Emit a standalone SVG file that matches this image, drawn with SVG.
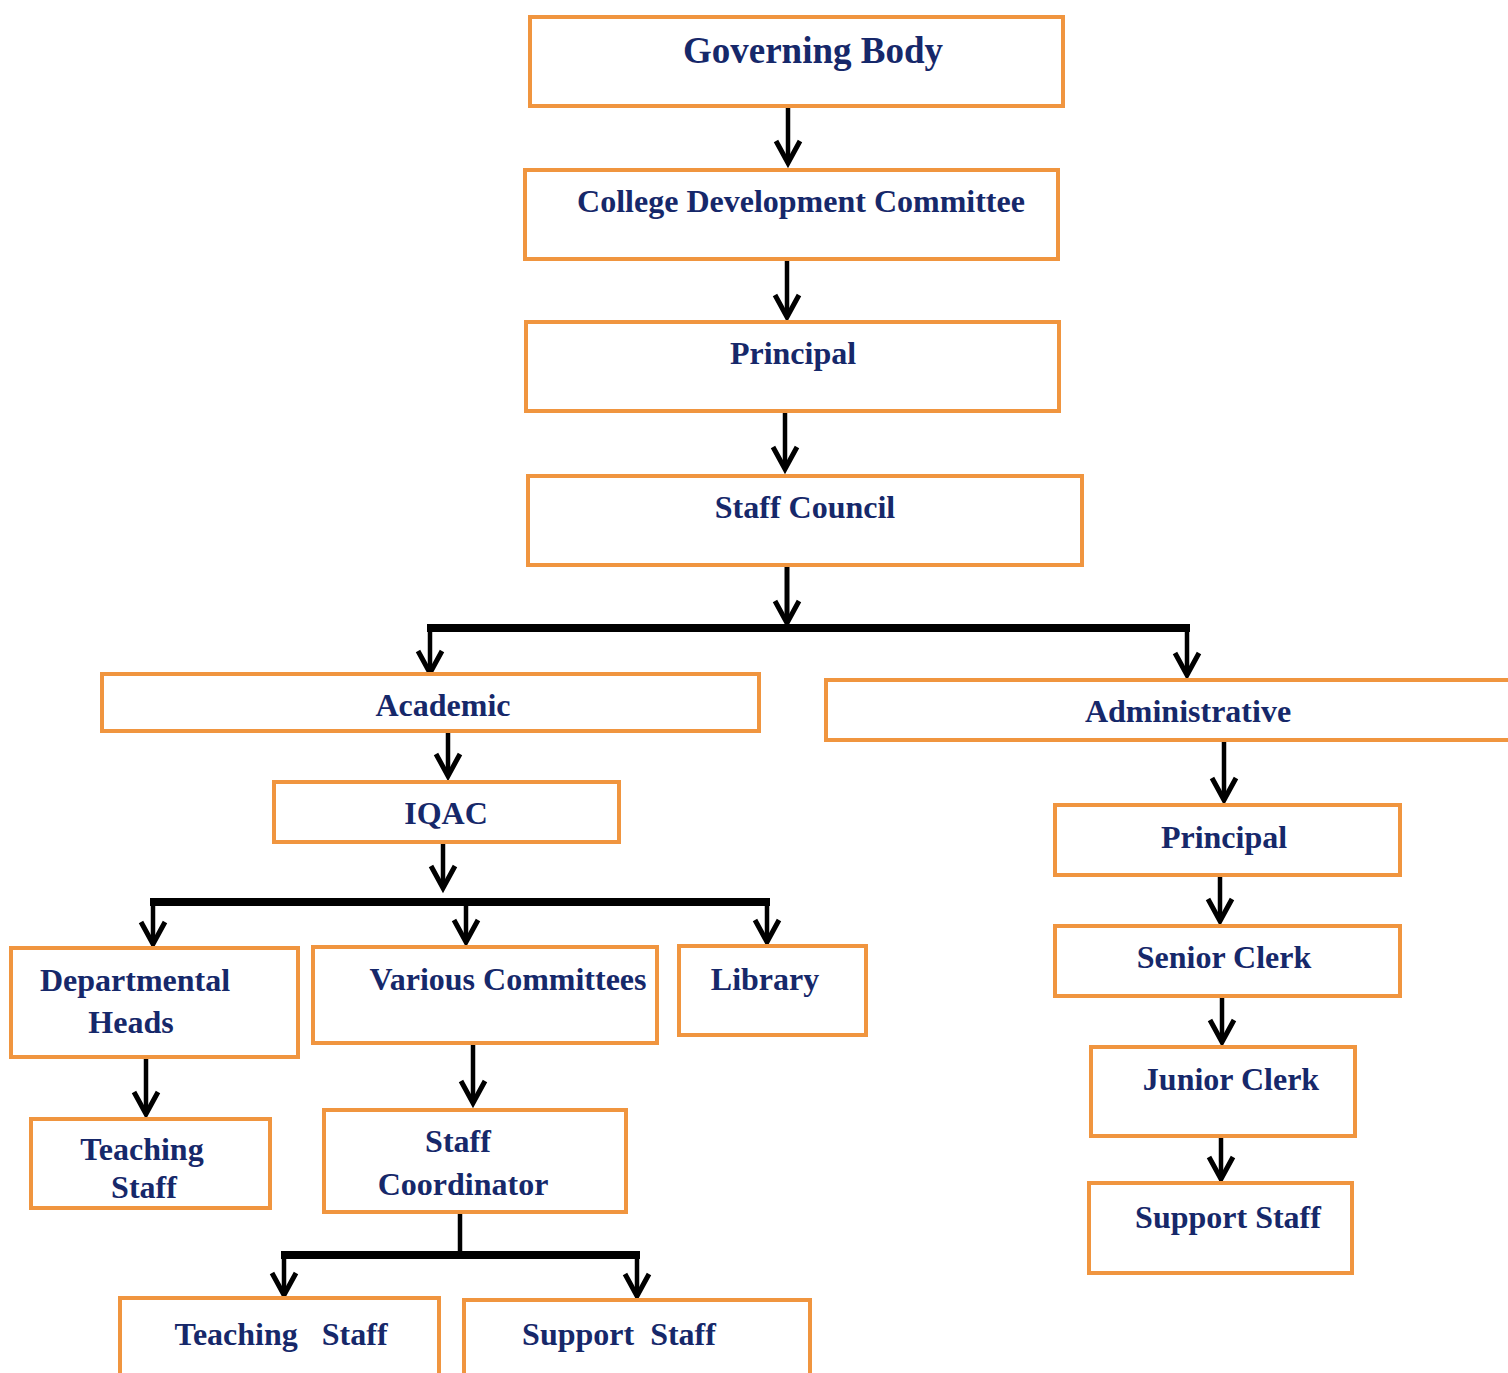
<svg xmlns="http://www.w3.org/2000/svg" width="1508" height="1373" viewBox="0 0 1508 1373">
<style>
.box{fill:#fff;stroke:#f0953f;stroke-width:4}
.t{font-family:"Liberation Serif","Times New Roman",serif;font-weight:bold;font-size:32px;fill:#16286a;text-anchor:middle}
.big{font-size:37px}
.ln{fill:none;stroke:#000;stroke-width:4.5}
.bar{fill:none;stroke:#000;stroke-width:8}
</style>
<defs>
<marker id="ah" markerUnits="userSpaceOnUse" markerWidth="40" markerHeight="40" refX="0" refY="0" orient="auto" overflow="visible">
<path d="M-22,-12 L0,0 L-22,12" fill="none" stroke="#000" stroke-width="5"/>
</marker>
</defs>
<rect width="1508" height="1373" fill="#fff"/>
<g id="connectors">
<line class="ln" x1="788" y1="106" x2="788" y2="163" marker-end="url(#ah)"/>
<line class="ln" x1="787" y1="260" x2="787" y2="317" marker-end="url(#ah)"/>
<line class="ln" x1="785" y1="412" x2="785" y2="469" marker-end="url(#ah)"/>
<line class="ln" x1="787" y1="566" x2="787" y2="623" marker-end="url(#ah)" style="stroke-width:5"/>
<line class="bar" x1="427" y1="628" x2="1190" y2="628"/>
<line class="ln" x1="430" y1="628" x2="430" y2="673" marker-end="url(#ah)"/>
<line class="ln" x1="1187" y1="628" x2="1187" y2="675" marker-end="url(#ah)"/>
<line class="ln" x1="448" y1="732" x2="448" y2="776" marker-end="url(#ah)"/>
<line class="ln" x1="443" y1="843" x2="443" y2="888" marker-end="url(#ah)"/>
<line class="bar" x1="150" y1="902" x2="770" y2="902"/>
<line class="ln" x1="153" y1="902" x2="153" y2="944" marker-end="url(#ah)"/>
<line class="ln" x1="466" y1="902" x2="466" y2="942" marker-end="url(#ah)"/>
<line class="ln" x1="767" y1="902" x2="767" y2="942" marker-end="url(#ah)"/>
<line class="ln" x1="146" y1="1058" x2="146" y2="1114" marker-end="url(#ah)"/>
<line class="ln" x1="473" y1="1045" x2="473" y2="1103" marker-end="url(#ah)"/>
<line class="ln" x1="460" y1="1213" x2="460" y2="1252"/>
<line class="bar" x1="281" y1="1255" x2="640" y2="1255"/>
<line class="ln" x1="284" y1="1255" x2="284" y2="1295" marker-end="url(#ah)"/>
<line class="ln" x1="637" y1="1255" x2="637" y2="1296" marker-end="url(#ah)"/>
<line class="ln" x1="1224" y1="741" x2="1224" y2="800" marker-end="url(#ah)"/>
<line class="ln" x1="1220" y1="876" x2="1220" y2="921" marker-end="url(#ah)"/>
<line class="ln" x1="1222" y1="997" x2="1222" y2="1042" marker-end="url(#ah)"/>
<line class="ln" x1="1221" y1="1137" x2="1221" y2="1179" marker-end="url(#ah)"/>
</g>
<g id="governing-body"><rect class="box" x="530" y="17" width="533" height="89"/><text class="t big" x="813" y="63">Governing Body</text></g>
<g id="cdc"><rect class="box" x="525" y="170" width="533" height="89"/><text class="t" x="801" y="212">College Development Committee</text></g>
<g id="principal"><rect class="box" x="526" y="322" width="533" height="89"/><text class="t" x="793" y="364">Principal</text></g>
<g id="staff-council"><rect class="box" x="528" y="476" width="554" height="89"/><text class="t" x="805" y="518">Staff Council</text></g>
<g id="academic"><rect class="box" x="102" y="674" width="657" height="57"/><text class="t" x="443" y="716">Academic</text></g>
<g id="administrative"><rect class="box" x="826" y="680" width="684" height="60"/><text class="t" x="1188" y="722">Administrative</text></g>
<g id="iqac"><rect class="box" x="274" y="782" width="345" height="60"/><text class="t" x="446" y="824">IQAC</text></g>
<g id="departmental-heads"><rect class="box" x="11" y="948" width="287" height="109"/><text class="t" x="135" y="991">Departmental</text><text class="t" x="131" y="1033">Heads</text></g>
<g id="various-committees"><rect class="box" x="313" y="947" width="344" height="96"/><text class="t" x="508" y="990">Various Committees</text></g>
<g id="library"><rect class="box" x="679" y="946" width="187" height="89"/><text class="t" x="765" y="990">Library</text></g>
<g id="teaching-staff-1"><rect class="box" x="31" y="1119" width="239" height="89"/><text class="t" x="142" y="1160">Teaching</text><text class="t" x="144" y="1198">Staff</text></g>
<g id="staff-coordinator"><rect class="box" x="324" y="1110" width="302" height="102"/><text class="t" x="458" y="1152">Staff</text><text class="t" x="463" y="1195">Coordinator</text></g>
<g id="teaching-staff-2"><rect class="box" x="120" y="1298" width="319" height="80"/><text class="t" x="281" y="1345" xml:space="preserve">Teaching   Staff</text></g>
<g id="support-staff-1"><rect class="box" x="464" y="1300" width="346" height="80"/><text class="t" x="619" y="1345" xml:space="preserve">Support  Staff</text></g>
<g id="principal-2"><rect class="box" x="1055" y="805" width="345" height="70"/><text class="t" x="1224" y="848">Principal</text></g>
<g id="senior-clerk"><rect class="box" x="1055" y="926" width="345" height="70"/><text class="t" x="1224" y="968">Senior Clerk</text></g>
<g id="junior-clerk"><rect class="box" x="1091" y="1047" width="264" height="89"/><text class="t" x="1231" y="1090">Junior Clerk</text></g>
<g id="support-staff-2"><rect class="box" x="1089" y="1183" width="263" height="90"/><text class="t" x="1228" y="1228">Support Staff</text></g>
</svg>
